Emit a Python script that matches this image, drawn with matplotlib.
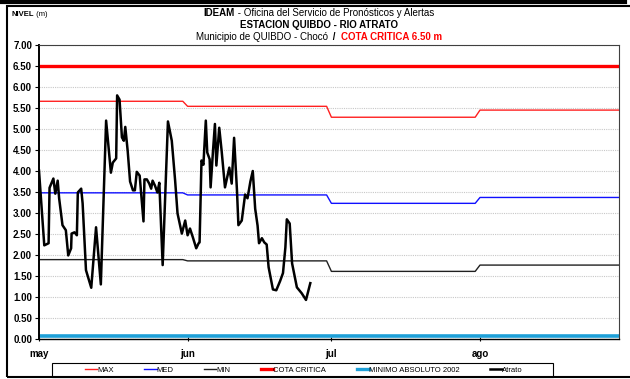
import matplotlib
matplotlib.use("Agg")
import matplotlib.pyplot as plt
import numpy as np
from matplotlib.lines import Line2D
from matplotlib.patches import Rectangle

plt.rcParams['font.family'] = ['Liberation Sans', 'DejaVu Sans']

# monthly reference levels (may, jun, jul, ago)
month_days = [31, 30, 31, 31]
month_ticks = [0, 31, 61, 92]
month_labels = ['may', 'jun', 'jul', 'ago']
nivel_max = [5.66, 5.54, 5.28, 5.45]
nivel_med = [3.48, 3.43, 3.23, 3.37]
nivel_min = [1.89, 1.86, 1.61, 1.76]
cota_critica = 6.50
minimo_absoluto = 0.06

# Atrato readings: days since 1 May, level in m
atrato_dia = [0.0, 1.1, 2.0, 2.2, 3.0, 3.4, 3.9, 4.2, 4.9, 5.6, 6.1, 6.7, 6.8, 7.4, 7.9,
              8.1, 8.8, 9.1, 9.8, 10.9, 11.9, 12.9, 14.0, 15.0, 15.4, 16.1, 16.3, 16.8,
              17.3, 17.7, 18.0, 18.5, 19.0, 19.6, 20.0, 20.4, 21.0, 21.8, 22.0, 22.5,
              23.0, 23.4, 23.7, 24.2, 24.7, 25.1, 25.8, 26.9, 27.7, 28.4, 28.9, 29.8,
              30.5, 31.0, 31.5, 32.1, 32.8, 33.3, 33.5, 33.9, 34.3, 34.8, 35.1, 35.6,
              35.8, 36.3, 36.7, 37.0, 37.6, 38.1, 38.8, 39.7, 40.2, 40.7, 41.3, 41.6,
              42.3, 43.0, 43.5, 44.1, 44.6, 45.1, 45.6, 45.9, 46.5, 47.0, 47.5, 47.9,
              48.8, 49.5, 50.3, 50.9, 51.4, 51.7, 52.3, 52.8, 53.8, 54.8, 55.7, 56.6]
atrato_nivel = [4.01, 2.23, 2.28, 3.60, 3.82, 3.46, 3.77, 3.35, 2.71, 2.59, 1.99, 2.16, 2.51,
                2.54, 2.47, 3.49, 3.58, 3.23, 1.64, 1.22, 2.66, 1.30, 5.20, 3.96, 4.20, 4.30,
                5.80, 5.70, 4.80, 4.72, 5.05, 4.48, 3.75, 3.54, 3.54, 3.98, 3.89, 2.80, 3.80,
                3.80, 3.70, 3.58, 3.77, 3.65, 3.49, 3.72, 1.76, 5.18, 4.72, 3.77, 2.99, 2.51,
                2.82, 2.47, 2.63, 2.42, 2.16, 2.28, 2.30, 4.25, 4.15, 5.20, 4.44, 4.28, 3.61,
                4.48, 5.12, 4.13, 5.03, 4.48, 3.61, 4.08, 3.70, 4.79, 3.54, 2.71, 2.82, 3.44,
                3.35, 3.75, 4.00, 3.10, 2.70, 2.28, 2.40, 2.30, 2.25, 1.71, 1.18, 1.16, 1.38,
                1.57, 2.18, 2.85, 2.75, 1.80, 1.23, 1.09, 0.93, 1.33]

W, H = 630, 379
fig = plt.figure(figsize=(W / 100, H / 100), dpi=100)
ax = fig.add_axes([39 / W, 1 - 339 / H, (619 - 39) / W, (339 - 45) / H])

# daily series for the climatological lines
dias = np.arange(sum(month_days))
def diario(vals):
    return np.repeat(vals, month_days)

ax.plot(dias, diario(nivel_max), color='#ff2020', lw=1.0, label='MAX')
ax.plot(dias, diario(nivel_med), color='#1010ff', lw=1.0, label='MED')
ax.plot(dias, diario(nivel_min), color='#202020', lw=1.0, label='MIN')
ax.plot(dias, np.full(len(dias), cota_critica), color='#ff0000', lw=2.4, label='COTA CRITICA')
ax.plot(dias, np.full(len(dias), minimo_absoluto), color='#1ea0d8', lw=2.6,
        label='MINIMO ABSOLUTO 2002')
ax.plot(atrato_dia, atrato_nivel, color='black', lw=1.8, label='Atrato')

ax.set_xlim(0, 121)
ax.set_ylim(0, 7)
ax.set_yticks(np.arange(0, 7.01, 0.5))
ax.set_yticklabels(['%.2f' % v for v in np.arange(0, 7.01, 0.5)],
                   fontsize=7, fontweight='bold')
ax.set_xticks(month_ticks)
ax.set_xticklabels(month_labels, fontsize=7, fontweight='bold')
ax.tick_params(axis='y', length=3, width=0.8, pad=2)
ax.tick_params(axis='x', length=3, width=0.8, pad=6, direction='inout')
ax.grid(axis='y', color='#c8c8c8', ls=(0, (1, 1)), lw=0.8)
ax.set_axisbelow(True)
for side in ['top', 'right']:
    ax.spines[side].set_color('#404040')
    ax.spines[side].set_linewidth(0.8)
ax.spines['left'].set_linewidth(1.4)
ax.spines['bottom'].set_linewidth(1.0)

# legend along the bottom, with its own box
handles = [Line2D([], [], color='#ff2020', lw=1.0),
           Line2D([], [], color='#1010ff', lw=1.0),
           Line2D([], [], color='#202020', lw=1.0),
           Line2D([], [], color='#ff0000', lw=2.4),
           Line2D([], [], color='#1ea0d8', lw=2.4),
           Line2D([], [], color='black', lw=1.8)]
labels = ['MAX', 'MED', 'MIN', 'COTA CRITICA', 'MINIMO ABSOLUTO 2002', 'Atrato']
leg = fig.legend(handles, labels, loc='center', bbox_to_anchor=(304 / W, 1 - 370 / H),
                 ncol=6, fontsize=5.5, handlelength=1.6, handletextpad=0.0,
                 columnspacing=4.0, frameon=False, borderpad=0.2)
fig.add_artist(Rectangle((52 / W, 1 - 377 / H), (553 - 52) / W, 14 / H, fill=False,
                         edgecolor='black', lw=0.8, transform=fig.transFigure))

# heading lines with mixed styles
fig.canvas.draw()
renderer = fig.canvas.get_renderer()

def linea(y, parts, xc=319, size=7.0, left=None):
    texts = [fig.text(0, 1 - y / H, s, size=size, va='center', ha='left', **kw)
             for s, kw in parts]
    widths = [t.get_window_extent(renderer).width for t in texts]
    x = xc - sum(widths) / 2 if left is None else left
    for t, w in zip(texts, widths):
        t.set_x(x / W)
        x += w

linea(13, [('IDEAM', {'weight': 'bold'}),
           (' - Oficina del Servicio de Pronósticos y Alertas', {})])
linea(25, [('ESTACION QUIBDO - RIO ATRATO', {'weight': 'bold'})])
linea(37, [('Municipio de QUIBDO - Chocó ', {}),
           (' /  ', {'weight': 'bold'}),
           ('COTA CRITICA 6.50 m', {'weight': 'bold', 'color': '#ff0000'})])
linea(14, [('NIVEL', {'weight': 'bold'}), (' (m)', {})], size=5.5, left=11)

# outer frame
fig.add_artist(Line2D([0, 625 / W], [1 - 2 / H, 1 - 2 / H], color='black', lw=3,
                      transform=fig.transFigure))
fig.add_artist(Rectangle((7 / W, 1 - 377 / H), 1, (377 - 6) / H, fill=False,
                         edgecolor='black', lw=1.5, transform=fig.transFigure))

fig.savefig('out.png', dpi=100)
